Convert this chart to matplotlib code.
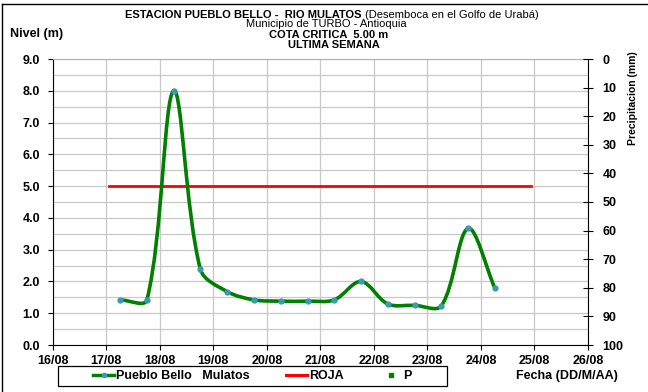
import numpy as np
import matplotlib.pyplot as plt
from matplotlib.path import Path
from matplotlib.patches import PathPatch, Rectangle
from matplotlib.lines import Line2D

plt.rcParams['font.family'] = ['Liberation Sans', 'DejaVu Sans']

# level readings (day of August, metres), every 12 h
dias = [17.26, 17.76, 18.26, 18.76, 19.26, 19.76, 20.26, 20.76,
        21.26, 21.76, 22.26, 22.76, 23.26, 23.76, 24.26]
nivel = [1.42, 1.42, 8.0, 2.38, 1.68, 1.42, 1.38, 1.38,
         1.42, 2.0, 1.29, 1.25, 1.23, 3.67, 1.79]

# critical level (cota critica)
roja_x = [17.06, 24.94]
roja_y = [5.0, 5.0]

dia_ticks = list(range(16, 27))
dia_labels = [f"{d}/08" for d in dia_ticks]
nivel_ticks = [float(i) for i in range(10)]
precip_ticks = list(range(0, 101, 10))

W, H = 648, 392


def smooth_path(ax, xs, ys):
    # excel style smoothed line, built in screen space then mapped back
    pts = ax.transData.transform(np.column_stack([xs, ys]))
    n = len(pts)
    verts = [pts[0]]
    codes = [Path.MOVETO]
    for i in range(n - 1):
        p0 = pts[i - 1] if i > 0 else pts[i]
        p1 = pts[i]
        p2 = pts[i + 1]
        p3 = pts[i + 2] if i + 2 < n else pts[i + 1]
        d01 = np.hypot(*(p1 - p0))
        d12 = np.hypot(*(p2 - p1))
        d23 = np.hypot(*(p3 - p2))
        k1 = 2 * d12 / (d01 + d12) if d01 + d12 > 0 else 0
        k2 = 2 * d12 / (d12 + d23) if d12 + d23 > 0 else 0
        c1 = p1 + (p2 - p0) * k1 / 6
        c2 = p2 - (p3 - p1) * k2 / 6
        verts += [c1, c2, p2]
        codes += [Path.CURVE4] * 3
    verts = ax.transData.inverted().transform(np.array(verts))
    return Path(verts, codes)


fig = plt.figure(figsize=(W / 100, H / 100), dpi=100)
ax = fig.add_axes([52.7 / W, 1 - 345 / H, 535.3 / W, 286 / H])

verde = '#008000'
marker_col = '#3a9ab0'

ax.set_xlim(16, 26)
ax.set_ylim(0, 9)

ax.add_patch(PathPatch(smooth_path(ax, dias, nivel), fill=False, edgecolor=verde,
                       lw=2.6, zorder=3, capstyle='round'))
ax.plot(dias, nivel, ls='none', marker='o', ms=3.5, mfc=marker_col, mec=marker_col, zorder=4)
ax.plot(roja_x, roja_y, color='#ff0000', lw=2, zorder=2)

ax.set_xticks(dia_ticks)
ax.set_xticklabels(dia_labels, fontweight='bold', fontsize=9)
ax.set_yticks(nivel_ticks)
ax.set_yticklabels([f"{v:.1f}" for v in nivel_ticks], fontweight='bold', fontsize=9)
ax.set_yticks([i * 0.5 for i in range(19)], minor=True)
ax.tick_params(axis='y', which='minor', length=0)
ax.tick_params(axis='y', which='major', length=3.5, width=0.8, direction='out', pad=5.5)
ax.tick_params(axis='x', which='major', length=3.5, width=0.8, direction='out', pad=3.5)
ax.grid(True, which='both', color='#c8c8c8', lw=0.9)
ax.set_axisbelow(True)
for s in ['left', 'bottom']:
    ax.spines[s].set_color('black')
ax.spines['top'].set_color('#b0b0b0')
ax.spines['right'].set_visible(False)

ax2 = ax.twinx()
ax2.set_ylim(100, 0)
ax2.set_yticks(precip_ticks)
ax2.set_yticklabels([str(v) for v in precip_ticks], fontweight='bold', fontsize=9)
ax2.tick_params(axis='y', length=7, width=0.8, direction='inout', pad=7)
ax2.spines['right'].set_color('black')
for s in ['left', 'top', 'bottom']:
    ax2.spines[s].set_visible(False)

# titles
fig.text(125 / W, 1 - 14.5 / H, "ESTACION PUEBLO BELLO -  RIO MULATOS", fontsize=8,
         fontweight='bold', ha='left', va='center')
fig.text(365 / W, 1 - 14.5 / H, "(Desemboca en el Golfo de Urabá)", fontsize=8,
         ha='left', va='center')
fig.text(326 / W, 1 - 24 / H, "Municipio de TURBO - Antioquia", fontsize=8,
         ha='center', va='center')
fig.text(329 / W, 1 - 34.5 / H, "COTA CRITICA  5.00 m", fontsize=8,
         fontweight='bold', ha='center', va='center')
fig.text(334 / W, 1 - 45 / H, "ULTIMA SEMANA", fontsize=8,
         fontweight='bold', ha='center', va='center')
fig.text(10 / W, 1 - 34.5 / H, "Nivel (m)", fontsize=9, fontweight='bold',
         ha='left', va='center')
fig.text(633 / W, 1 - 98.5 / H, "Precipitacion (mm)", fontsize=7.5, fontweight='bold',
         rotation=90, ha='center', va='center')
fig.text(567 / W, 1 - 376 / H, "Fecha (DD/M/AA)", fontsize=9, fontweight='bold',
         ha='center', va='center')

# legend
handles = [
    Line2D([0], [0], color=verde, lw=2.5, marker='o', ms=3, mfc=marker_col, mec=marker_col),
    Line2D([0], [0], color='#ff0000', lw=2.2),
    Line2D([0], [0], ls='none', marker='s', ms=2.5, color=verde),
]
labels = ["Pueblo Bello   Mulatos", "ROJA", "P"]
fig.legend(handles, labels, ncol=3, loc='center left', bbox_to_anchor=(93 / W, 1 - 376 / H),
           prop={'weight': 'bold', 'size': 9}, frameon=False, borderpad=0, borderaxespad=0,
           handlelength=1.7, handletextpad=0.15, columnspacing=2.9)
fig.patches.append(Rectangle((58 / W, 1 - 386 / H), 389 / W, 20 / H, transform=fig.transFigure,
                             fill=False, edgecolor='black', lw=0.9))

# chart area border
fig.add_artist(Line2D([2 / W, 1], [1 - 4 / H, 1 - 4 / H], color='black', lw=1,
                      transform=fig.transFigure))
fig.add_artist(Line2D([2 / W, 2 / W], [0, 1 - 4 / H], color='black', lw=1,
                      transform=fig.transFigure))

fig.savefig('out.png', dpi=100)
